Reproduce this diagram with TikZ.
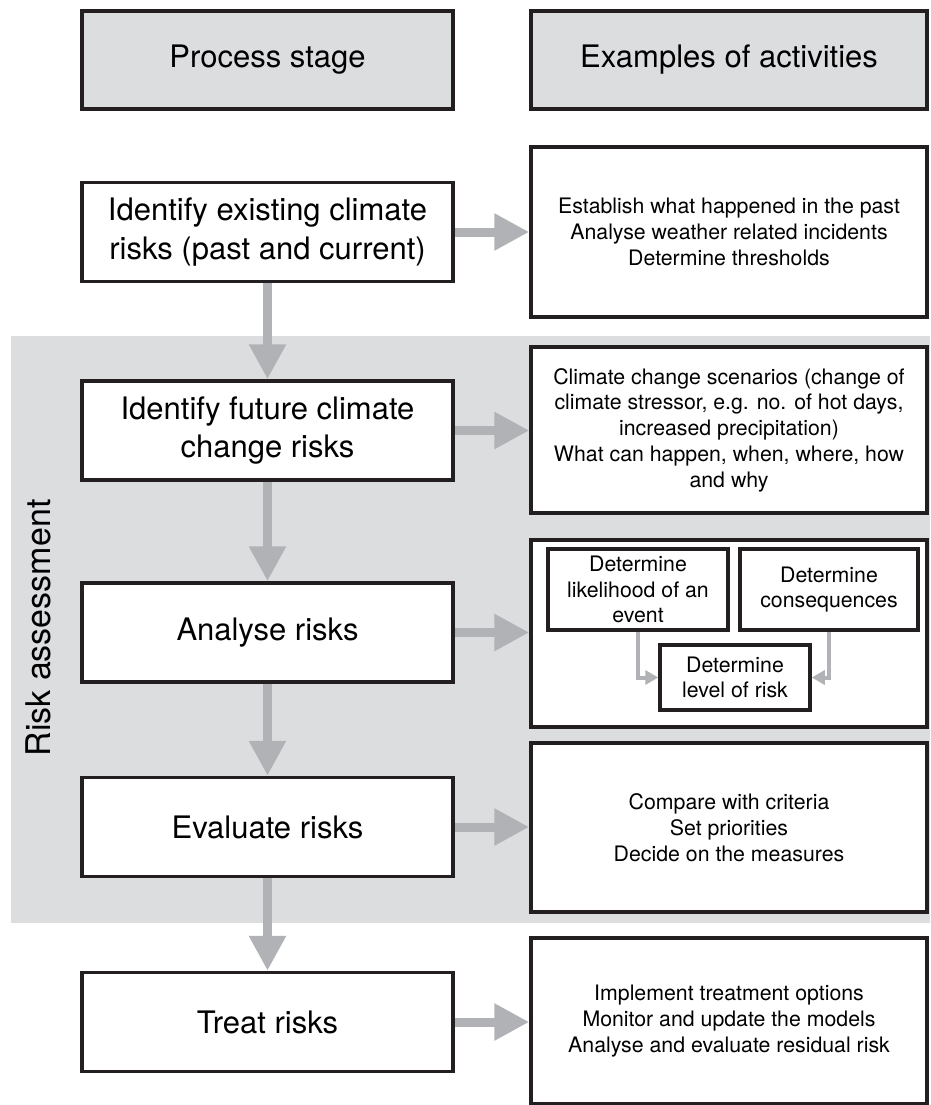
\documentclass[tikz,border=0pt]{standalone}
\usepackage{fontspec}
\setmainfont{TeX Gyre Heros}
\usepackage{tikz}
\usetikzlibrary{arrows.meta, positioning}
\usepackage{xcolor}
\definecolor{stageBg}{RGB}{220, 221, 223}
\definecolor{flowGray}{RGB}{177, 178, 181}
\definecolor{lineBlk}{RGB}{35, 31, 32}

\begin{document}
\begin{tikzpicture}[x=1pt, y=-1pt,
  stage/.style={draw=lineBlk, line width=3.5pt, fill=white, align=center,
                inner sep=0pt, minimum width=371pt, minimum height=99pt,
                font=\fontsize{31}{38.5}\selectfont},
  activity/.style={draw=lineBlk, line width=3.5pt, fill=white, align=center,
                   inner sep=0pt, minimum width=396pt,
                   font=\fontsize{21.3}{25.7}\selectfont},
  subbox/.style={draw=lineBlk, line width=3.5pt, fill=white, align=center,
                 inner sep=0pt, font=\fontsize{21.3}{25.2}\selectfont},
  flow/.style={draw=flowGray, line width=9pt, -{Triangle[length=35pt, width=35pt]}},
  subflow/.style={draw=flowGray, line width=4pt, -{Triangle[length=13pt, width=14pt]}}]
  \useasboundingbox (0,0) rectangle (930,1105);

  % Risk assessment band
  \fill[stageBg] (11,336) rectangle (930,923);
  \node[rotate=90, font=\fontsize{34}{40}\selectfont] (riskLab) at (38,628) {Risk assessment};

  % Header row
  \node[stage, fill=stageBg, minimum height=98pt] (hStage) at (267.5,60) {Process stage};
  \node[stage, fill=stageBg, minimum width=396pt, minimum height=98pt] (hAct) at (729,60) {Examples of activities};

  % Process stages
  \foreach \nm/\yy/\lab in {
      b1/232/{Identify existing climate\\risks (past and current)},
      b2/430.5/{Identify future climate\\change risks},
      b3/632.5/{Analyse risks},
      b4/827/{Evaluate risks},
      b5/1022/{Treat risks}} {
    \node[stage] (\nm) at (267.5,\yy) {\lab};
  }

  % Activities
  \foreach \nm/\yy/\hh/\lab in {
      r1/232/170/{Establish what happened in the past\\Analyse weather related incidents\\Determine thresholds},
      r2/430/166/{Climate change scenarios (change of\\climate stressor, e.g. no. of hot days,\\increased precipitation)\\What can happen, when, where, how\\and why},
      r3/633.5/187/{},
      r4/827.5/169/{Compare with criteria\\Set priorities\\Decide on the measures},
      r5/1021/166/{Implement treatment options\\Monitor and update the models\\Analyse and evaluate residual risk}} {
    \node[activity, minimum height=\hh pt] (\nm) at (729,\yy) {\lab};
  }

  % Inside the analysis box
  \node[subbox, minimum width=180pt, minimum height=81pt] (likely) at (638,589.5)
    {Determine\\likelihood of an\\event};
  \node[subbox, minimum width=178pt, minimum height=81pt] (conseq) at (829,589.5)
    {Determine\\consequences};
  \node[subbox, minimum width=150pt, minimum height=65pt] (level) at (735,677.5)
    {Determine\\level of risk};
  \draw[subflow] (likely.south) |- (level.west);
  \draw[subflow] (conseq.south) |- (level.east);

  % Arrows
  \foreach \i/\j in {1/2, 2/3, 3/4, 4/5} {
    \draw[flow] (b\i.south) -- (b\j.north);
  }
  \foreach \i in {1,...,5} {
    \draw[flow] (b\i.east) -- (b\i.east -| r\i.west);
  }
\end{tikzpicture}
\end{document}
